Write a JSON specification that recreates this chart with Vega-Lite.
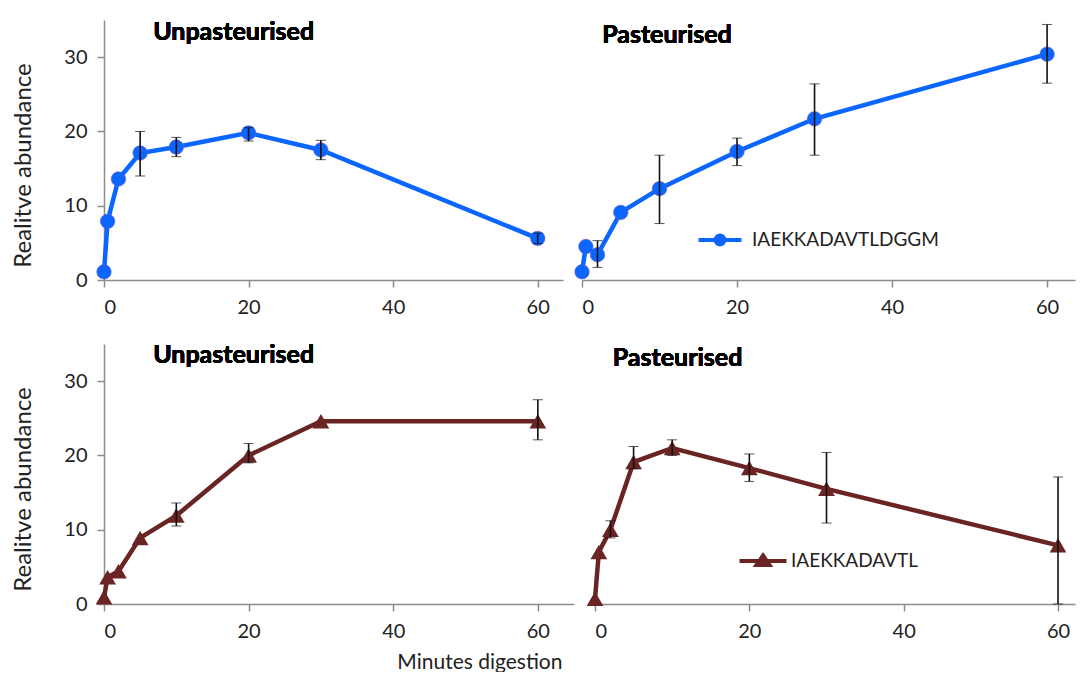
{
  "$schema": "https://vega.github.io/schema/vega-lite/v6.json",
  "background": "white",
  "padding": {"left": 10, "top": 20, "right": 8, "bottom": 0},
  "config": {
    "view": {"stroke": null},
    "font": "Lato",
    "axis": {
      "grid": false,
      "domainColor": "#8c8c8c",
      "domainWidth": 1.5,
      "tickColor": "#8c8c8c",
      "tickSize": 7,
      "tickWidth": 1.5,
      "labelFont": "Lato",
      "labelFontSize": 20,
      "labelColor": "#222222",
      "labelPadding": 10,
      "titleFont": "Lato",
      "titleFontWeight": "normal",
      "titleFontSize": 24,
      "titleColor": "#222222"
    },
    "legend": {"padding": 0}
  },
  "datasets": {
    "rows": [
      {"panel": "TL", "peptide": "IAEKKADAVTLDGGM", "t": 0, "v": 1.1},
      {"panel": "TL", "peptide": "IAEKKADAVTLDGGM", "t": 0.5, "v": 7.9},
      {"panel": "TL", "peptide": "IAEKKADAVTLDGGM", "t": 2, "v": 13.6},
      {"panel": "TL", "peptide": "IAEKKADAVTLDGGM", "t": 5, "v": 17.1, "lo": 14.0, "hi": 20.0},
      {"panel": "TL", "peptide": "IAEKKADAVTLDGGM", "t": 10, "v": 17.9, "lo": 16.6, "hi": 19.2},
      {"panel": "TL", "peptide": "IAEKKADAVTLDGGM", "t": 20, "v": 19.8, "lo": 18.7, "hi": 20.5},
      {"panel": "TL", "peptide": "IAEKKADAVTLDGGM", "t": 30, "v": 17.5, "lo": 16.2, "hi": 18.8},
      {"panel": "TL", "peptide": "IAEKKADAVTLDGGM", "t": 60, "v": 5.6, "lo": 4.9, "hi": 6.3},
      {"panel": "TR", "peptide": "IAEKKADAVTLDGGM", "t": 0, "v": 1.1},
      {"panel": "TR", "peptide": "IAEKKADAVTLDGGM", "t": 0.5, "v": 4.5},
      {"panel": "TR", "peptide": "IAEKKADAVTLDGGM", "t": 2, "v": 3.4, "lo": 1.7, "hi": 5.3},
      {"panel": "TR", "peptide": "IAEKKADAVTLDGGM", "t": 5, "v": 9.1},
      {"panel": "TR", "peptide": "IAEKKADAVTLDGGM", "t": 10, "v": 12.3, "lo": 7.6, "hi": 16.8},
      {"panel": "TR", "peptide": "IAEKKADAVTLDGGM", "t": 20, "v": 17.3, "lo": 15.4, "hi": 19.1},
      {"panel": "TR", "peptide": "IAEKKADAVTLDGGM", "t": 30, "v": 21.7, "lo": 16.8, "hi": 26.4},
      {"panel": "TR", "peptide": "IAEKKADAVTLDGGM", "t": 60, "v": 30.4, "lo": 26.5, "hi": 34.4},
      {"panel": "BL", "peptide": "IAEKKADAVTL", "t": 0, "v": 0.9},
      {"panel": "BL", "peptide": "IAEKKADAVTL", "t": 0.5, "v": 3.6},
      {"panel": "BL", "peptide": "IAEKKADAVTL", "t": 2, "v": 4.4},
      {"panel": "BL", "peptide": "IAEKKADAVTL", "t": 5, "v": 8.9},
      {"panel": "BL", "peptide": "IAEKKADAVTL", "t": 10, "v": 11.9, "lo": 10.5, "hi": 13.6},
      {"panel": "BL", "peptide": "IAEKKADAVTL", "t": 20, "v": 20.0, "lo": 19.0, "hi": 21.6},
      {"panel": "BL", "peptide": "IAEKKADAVTL", "t": 30, "v": 24.6},
      {"panel": "BL", "peptide": "IAEKKADAVTL", "t": 60, "v": 24.6, "lo": 22.1, "hi": 27.5},
      {"panel": "BR", "peptide": "IAEKKADAVTL", "t": 0, "v": 0.7},
      {"panel": "BR", "peptide": "IAEKKADAVTL", "t": 0.5, "v": 7.0},
      {"panel": "BR", "peptide": "IAEKKADAVTL", "t": 2, "v": 10.0, "lo": 8.9, "hi": 11.2},
      {"panel": "BR", "peptide": "IAEKKADAVTL", "t": 5, "v": 19.1, "lo": 18.2, "hi": 21.2},
      {"panel": "BR", "peptide": "IAEKKADAVTL", "t": 10, "v": 21.0, "lo": 20.0, "hi": 22.1},
      {"panel": "BR", "peptide": "IAEKKADAVTL", "t": 20, "v": 18.3, "lo": 16.5, "hi": 20.2},
      {"panel": "BR", "peptide": "IAEKKADAVTL", "t": 30, "v": 15.5, "lo": 10.9, "hi": 20.4},
      {"panel": "BR", "peptide": "IAEKKADAVTL", "t": 60, "v": 7.9, "lo": 0, "hi": 17.1}
    ]
  },
  "data": {"name": "rows"},
  "spacing": 26,
  "resolve": {"scale": {"color": "independent"}},
  "vconcat": [
    {
      "spacing": 19,
      "bounds": "flush",
      "resolve": {"scale": {"color": "independent"}},
      "hconcat": [
        {
          "width": 459, "height": 260,
          "transform": [{"filter": "datum.panel === 'TL'"}],
          "encoding": {
            "x": {"field": "t", "type": "quantitative", "scale": {"domain": [0, 63.5], "nice": false},
                  "axis": {"values": [0, 20, 40, 60], "title": null}},
            "y": {"field": "v", "type": "quantitative", "scale": {"domain": [0, 35], "nice": false},
                  "axis": {"values": [0, 10, 20, 30], "title": "Realitve abundance", "titleX": -74, "titleY": 145, "titleBaseline": "alphabetic", "titleAlign": "center", "titleAngle": -90}}
          },
          "layer": [
            {"mark": {"type": "line", "color": "#0a66ff", "strokeWidth": 4.5}},
            {"mark": {"type": "point", "filled": true, "color": "#0a66ff", "size": 210, "opacity": 1, "stroke": "#6a5cd0", "strokeWidth": 0.6}},
            {"transform": [{"filter": "isValid(datum.hi)"}],
             "mark": {"type": "errorbar", "ticks": {"size": 10, "color": "#111111", "strokeWidth": 1.6}, "rule": {"color": "#111111", "strokeWidth": 1.6}},
             "encoding": {"y": {"field": "hi", "type": "quantitative"}, "y2": {"field": "lo"}}},
            {"mark": {"type": "text", "text": "Unpasteurised", "font": "Lato", "fontWeight": "bold", "fontSize": 25, "align": "left", "baseline": "alphabetic", "color": "#000000"},
             "encoding": {"x": {"datum": 6.8}, "y": {"datum": 32.3}}}
          ]
        },
        {
          "width": 493, "height": 260,
          "transform": [{"filter": "datum.panel === 'TR'"}],
          "encoding": {
            "x": {"field": "t", "type": "quantitative", "scale": {"domain": [0, 63.6], "nice": false},
                  "axis": {"values": [0, 20, 40, 60], "title": null}},
            "y": {"field": "v", "type": "quantitative", "scale": {"domain": [0, 35], "nice": false}, "axis": null}
          },
          "layer": [
            {"mark": {"type": "line", "color": "#0a66ff", "strokeWidth": 4.5}},
            {"mark": {"type": "point", "filled": true, "size": 210, "opacity": 1},
             "encoding": {"color": {"field": "peptide", "type": "nominal", "scale": {"range": ["#0a66ff"]},
               "legend": {"title": null, "orient": "none", "legendX": 126, "legendY": 208,
                 "symbolType": "M-2.15,0L2.15,0M0.45,0A0.45,0.45,0,1,1,-0.45,0A0.45,0.45,0,1,1,0.45,0Z",
                 "symbolSize": 400, "symbolStrokeColor": "#0a66ff", "symbolFillColor": "#0a66ff", "symbolStrokeWidth": 4, "symbolOpacity": 1,
                 "labelOffset": 20, "labelLimit": 0, "labelFont": "Lato", "labelFontSize": 19, "labelColor": "#222222"}}}},
            {"mark": {"type": "point", "filled": false, "size": 210, "opacity": 1, "stroke": "#6a5cd0", "strokeWidth": 0.6}},
            {"transform": [{"filter": "isValid(datum.hi)"}],
             "mark": {"type": "errorbar", "ticks": {"size": 10, "color": "#111111", "strokeWidth": 1.6}, "rule": {"color": "#111111", "strokeWidth": 1.6}},
             "encoding": {"y": {"field": "hi", "type": "quantitative"}, "y2": {"field": "lo"}}},
            {"mark": {"type": "text", "text": "Pasteurised", "font": "Lato", "fontWeight": "bold", "fontSize": 25, "align": "left", "baseline": "alphabetic", "color": "#000000"},
             "encoding": {"x": {"datum": 2.6}, "y": {"datum": 31.9}}}
          ]
        }
      ]
    },
    {
      "spacing": 21,
      "bounds": "flush",
      "resolve": {"scale": {"color": "independent"}},
      "hconcat": [
        {
          "width": 470, "height": 260,
          "transform": [{"filter": "datum.panel === 'BL'"}],
          "encoding": {
            "x": {"field": "t", "type": "quantitative", "scale": {"domain": [0, 65], "nice": false},
                  "axis": {"values": [0, 20, 40, 60], "title": "Minutes digestion", "titleX": 458, "titleY": 64, "titleAlign": "right", "titleBaseline": "alphabetic", "titleFontSize": 21}},
            "y": {"field": "v", "type": "quantitative", "scale": {"domain": [0, 35], "nice": false},
                  "axis": {"values": [0, 10, 20, 30], "title": "Realitve abundance", "titleX": -74, "titleY": 145, "titleBaseline": "alphabetic", "titleAlign": "center", "titleAngle": -90}}
          },
          "layer": [
            {"mark": {"type": "line", "color": "#6b2424", "strokeWidth": 4.5}},
            {"mark": {"type": "point", "shape": "triangle-up", "filled": true, "color": "#6b2424", "size": 280, "opacity": 1}},
            {"transform": [{"filter": "isValid(datum.hi)"}],
             "mark": {"type": "errorbar", "ticks": {"size": 10, "color": "#111111", "strokeWidth": 1.6}, "rule": {"color": "#111111", "strokeWidth": 1.6}},
             "encoding": {"y": {"field": "hi", "type": "quantitative"}, "y2": {"field": "lo"}}},
            {"mark": {"type": "text", "text": "Unpasteurised", "font": "Lato", "fontWeight": "bold", "fontSize": 25, "align": "left", "baseline": "alphabetic", "color": "#000000"},
             "encoding": {"x": {"datum": 6.8}, "y": {"datum": 32.4}}}
          ]
        },
        {
          "width": 480, "height": 260,
          "transform": [{"filter": "datum.panel === 'BR'"}],
          "encoding": {
            "x": {"field": "t", "type": "quantitative", "scale": {"domain": [0, 62.2], "nice": false},
                  "axis": {"values": [0, 20, 40, 60], "title": null}},
            "y": {"field": "v", "type": "quantitative", "scale": {"domain": [0, 35], "nice": false}, "axis": null}
          },
          "layer": [
            {"mark": {"type": "line", "color": "#6b2424", "strokeWidth": 4.5}},
            {"mark": {"type": "point", "shape": "triangle-up", "filled": true, "size": 280, "opacity": 1},
             "encoding": {"color": {"field": "peptide", "type": "nominal", "scale": {"range": ["#6b2424"]},
               "legend": {"title": null, "orient": "none", "legendX": 156, "legendY": 205,
                 "symbolType": "M-2.35,0L2.35,0M0,-0.55L0.65,0.4L-0.65,0.4Z",
                 "symbolSize": 400, "symbolStrokeColor": "#6b2424", "symbolFillColor": "#6b2424", "symbolStrokeWidth": 4, "symbolOpacity": 1,
                 "labelOffset": 16, "labelLimit": 0, "labelFont": "Lato", "labelFontSize": 19, "labelColor": "#222222"}}}},
            {"transform": [{"filter": "isValid(datum.hi)"}],
             "mark": {"type": "errorbar", "ticks": {"size": 10, "color": "#111111", "strokeWidth": 1.6}, "rule": {"color": "#111111", "strokeWidth": 1.6}},
             "encoding": {"y": {"field": "hi", "type": "quantitative"}, "y2": {"field": "lo"}}},
            {"mark": {"type": "text", "text": "Pasteurised", "font": "Lato", "fontWeight": "bold", "fontSize": 25, "align": "left", "baseline": "alphabetic", "color": "#000000"},
             "encoding": {"x": {"datum": 2.3}, "y": {"datum": 32.1}}}
          ]
        }
      ]
    }
  ]
}
